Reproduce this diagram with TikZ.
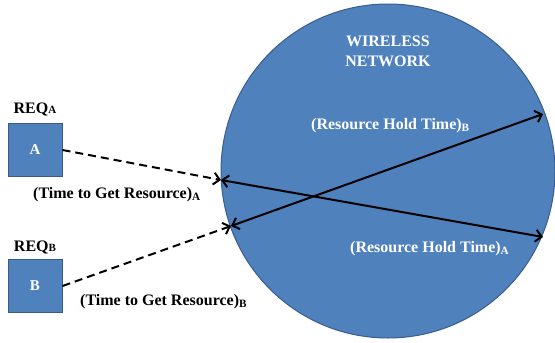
\documentclass[tikz,border=0pt]{standalone}
\usepackage{fontspec}
\setmainfont{Liberation Serif}
\usetikzlibrary{arrows.meta}
\definecolor{netblue}{HTML}{4F81BD}
\definecolor{netedge}{HTML}{385D8A}
\tikzset{
    >={Straight Barb[length=6pt,width=12pt]},
    reqbox/.style={draw=netedge, fill=netblue, line width=1pt, minimum width=54pt, minimum height=53pt, inner sep=0pt, text=white, font=\fontsize{15}{18}\selectfont\bfseries},
    lbl/.style={font=\fontsize{16}{20}\selectfont\bfseries, inner sep=0pt, anchor=base west},
    link/.style={line width=2pt},
}
\begin{document}
\begin{tikzpicture}[x=1pt,y=-1pt]
        \useasboundingbox (0,0) rectangle (555,343);
        \node[circle, draw=netedge, fill=netblue, line width=1pt, minimum size=334pt, inner sep=0pt] (net) at (388,171) {};
        \foreach \y/\n/\l in {46/wl/WIRELESS,66/nw/NETWORK}{
            \node[lbl, anchor=base, text=white] (\n) at (388,\y) {\l};
        }
        \foreach \y/\n/\l in {150/boxA/A,286/boxB/B}{
            \node[reqbox] (\n) at (35,\y) {\l};
        }
        \foreach \y/\n/\l in {113/reqA/A,251/reqB/B}{
            \node[lbl, anchor=base] (\n) at (35,\y) {REQ{\fontsize{11}{12}\selectfont\l}};
        }
        \foreach \x/\y/\n in {221/180/aL,543/237/aR,231/226/bL,543/114/bR}{
            \coordinate (\n) at (\x,\y);
        }
        \foreach \m/\n in {boxA/aL,boxB/bL}{
            \draw[link, ->, dash pattern=on 8pt off 5pt] (\m.east) -- (\n);
        }
        \foreach \m/\n in {aL/aR,bL/bR}{
            \draw[link, <->] (\m) -- (\n);
        }
        \foreach \x/\y/\n/\l in {33/198/getA/A,80/305/getB/B}{
            \node[lbl] (\n) at (\x,\y) {(Time to Get Resource)\textsubscript{\l}};
        }
        \foreach \x/\y/\n/\l in {311/129/holdB/B,350/252/holdA/A}{
            \node[lbl, text=white] (\n) at (\x,\y) {(Resource Hold Time)\textsubscript{\l}};
        }
    \end{tikzpicture}
\end{document}
